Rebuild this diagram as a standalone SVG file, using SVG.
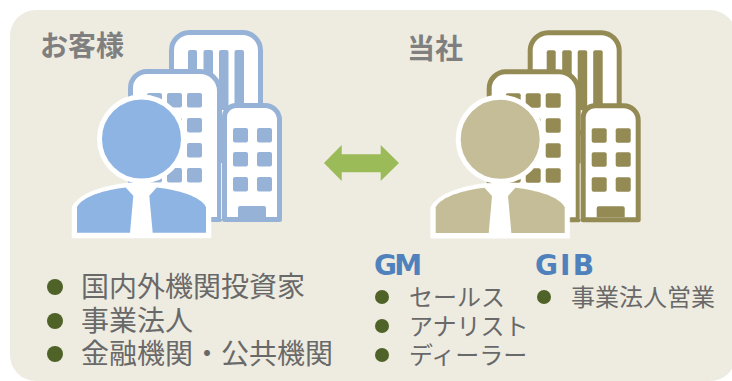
<svg xmlns="http://www.w3.org/2000/svg" width="732" height="381" viewBox="0 0 732 381">
<style>
text{font-family:"Noto Sans CJK JP","DejaVu Sans",sans-serif}
.t{font-size:28px;fill:#696969}
.s{font-size:24px;fill:#696969}
.h{font-size:28px;font-weight:700;fill:#4F81BD;font-family:"DejaVu Sans",sans-serif}
.c{font-size:28px;font-weight:700;fill:#7f7f7f}
.d{fill:#4F6228}
</style>
<defs>
<g id="art">
<rect x="171.500" y="32.500" width="89" height="100" rx="18" fill="#fff" stroke="var(--b)" stroke-width="5"/>
<g fill="var(--b)"><rect x="188" y="50" width="9" height="60" rx="2"/><rect x="203.500" y="50" width="9.500" height="60" rx="2"/><rect x="219" y="50" width="9.500" height="60" rx="2"/><rect x="234.500" y="50" width="9.500" height="60" rx="2"/></g>
<path d="M130.500 219.500V88a16.500 16.500 0 0 1 16.500-16.500H200A19.500 19.500 0 0 1 219.500 91V219.500Z" fill="#fff" stroke="var(--b)" stroke-width="5" stroke-linejoin="round"/>
<g fill="var(--b)">
<rect x="147" y="93" width="15" height="14.500" rx="2"/><rect x="167" y="93" width="15" height="14.500" rx="2"/><rect x="187" y="93" width="15" height="14.500" rx="2"/>
<rect x="167" y="118" width="15" height="14.500" rx="2"/><rect x="187" y="118" width="15" height="14.500" rx="2"/>
<rect x="167" y="143" width="15" height="14.500" rx="2"/><rect x="187" y="143" width="15" height="14.500" rx="2"/>
<rect x="147" y="168" width="15" height="14.500" rx="2"/><rect x="167" y="168" width="15" height="14.500" rx="2"/><rect x="187" y="168" width="15" height="14.500" rx="2"/>
</g>
<path d="M224.500 219.500V117A11.500 11.500 0 0 1 236 105.500H265A14.500 14.500 0 0 1 279.500 120V219.500Z" fill="#fff" stroke="var(--b)" stroke-width="5" stroke-linejoin="round"/>
<rect x="221" y="163" width="0.800" height="56" fill="#fff"/>
<g fill="var(--b)">
<rect x="233" y="128" width="15" height="14.500" rx="2"/><rect x="257" y="128" width="15" height="14.500" rx="2"/>
<rect x="233" y="152" width="15" height="14.500" rx="2"/><rect x="257" y="152" width="15" height="14.500" rx="2"/>
<rect x="233" y="177" width="15" height="14.500" rx="2"/><rect x="257" y="177" width="15" height="14.500" rx="2"/>
<path d="M238 217V208a2 2 0 0 1 2-2H264a2 2 0 0 1 2 2V217Z"/>
</g>
<circle cx="141.500" cy="139" r="42" fill="var(--p)" stroke="#fff" stroke-width="5"/>
<path d="M72 238V207C80 192 105 186 127 183H156C178 186 203 192 211 207V238Z" fill="#fff" stroke="#fff" stroke-linejoin="round" stroke-width="0.500"/>
<path d="M125.700 187.500L133.300 195.700L130 232.700H77V207C83 196 105 190 125.700 187.500Z" fill="var(--p)"/>
<path d="M156.700 187.500L149.300 195.700L152.700 232.700H206V207C200 196 178 190 156.700 187.500Z" fill="var(--p)"/>
</g>
</defs>
<rect width="732" height="381" fill="#fff"/>
<rect id="panel" x="10" y="10" width="726" height="371" rx="26" fill="#EEECE1"/>
<g id="client">
<use href="#art" style="--b:#96B3D7;--p:#8EB4E3"/>
<text class="c" x="40" y="56">お客様</text>
</g>
<g id="company">
<use href="#art" x="358.700" y="0.300" style="--b:#948A54;--p:#C4BD97"/>
<text class="c" x="407" y="59">当社</text>
</g>
<g id="connectors">
<path d="M324 163L341.700 145V154.300H380.700V145L399 163L380.700 181V172.300H341.700V181Z" fill="#9BBB59"/>
</g>
<g id="client-list">
<circle class="d" cx="55" cy="287" r="8"/><text class="t" x="81" y="297">国内外機関投資家</text>
<circle class="d" cx="55" cy="321" r="8"/><text class="t" x="81" y="331">事業法人</text>
<circle class="d" cx="55" cy="354" r="8"/><text class="t" x="81" y="364">金融機関・公共機関</text>
</g>
<g id="gm">
<text class="h" x="374" y="275" textLength="48">GM</text>
<circle class="d" cx="382" cy="297" r="7"/><text class="s" x="409" y="306">セールス</text>
<circle class="d" cx="382" cy="326" r="7"/><text class="s" x="409" y="335">アナリスト</text>
<circle class="d" cx="382" cy="355" r="7"/><text class="s" x="409" y="364">ディーラー</text>
</g>
<g id="gib">
<text class="h" x="535" y="275" textLength="59">GIB</text>
<circle class="d" cx="544" cy="297" r="7"/><text class="s" x="571" y="306">事業法人営業</text>
</g>
</svg>
